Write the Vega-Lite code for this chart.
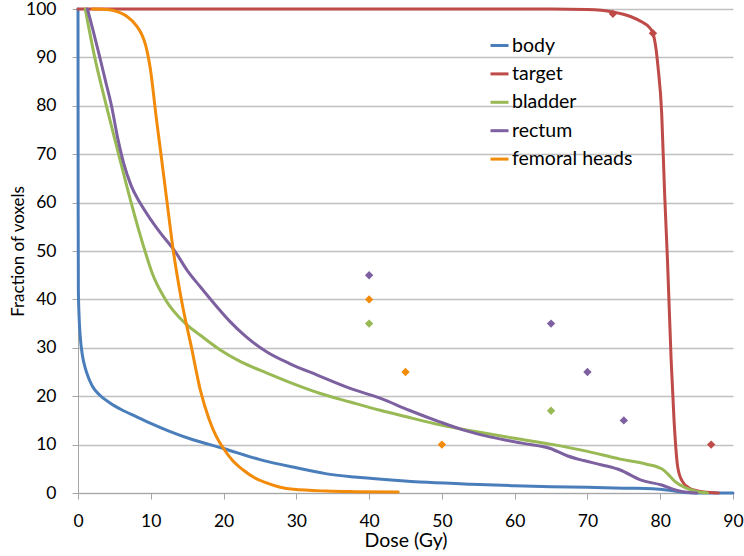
{
  "$schema": "https://vega.github.io/schema/vega-lite/v6.json",
  "width": 655,
  "height": 484,
  "autosize": {"type": "none"},
  "padding": {"left": 78, "top": 9, "right": 11, "bottom": 63},
  "background": "white",
  "config": {
    "view": {"stroke": null},
    "font": "Lato",
    "axis": {"labelFont": "Lato", "titleFont": "Lato", "labelColor": "#000000", "titleColor": "#000000", "titleFontWeight": "normal"}
  },
  "datasets": {
    "curves": [
      {"s": "body", "x": 0, "y": 100}, {"s": "body", "x": 0.02, "y": 60}, {"s": "body", "x": 0.05, "y": 42}, {"s": "body", "x": 0.15, "y": 36.5}, {"s": "body", "x": 0.3, "y": 32.5}, {"s": "body", "x": 0.6, "y": 28.5}, {"s": "body", "x": 1, "y": 25.8}, {"s": "body", "x": 1.5, "y": 23.6}, {"s": "body", "x": 2, "y": 22}, {"s": "body", "x": 3, "y": 20.2}, {"s": "body", "x": 4.4, "y": 18.6}, {"s": "body", "x": 6, "y": 17.2}, {"s": "body", "x": 8, "y": 15.8}, {"s": "body", "x": 10, "y": 14.4}, {"s": "body", "x": 12.5, "y": 12.8}, {"s": "body", "x": 15.8, "y": 11}, {"s": "body", "x": 20, "y": 9.2}, {"s": "body", "x": 25, "y": 6.9}, {"s": "body", "x": 30, "y": 5.2}, {"s": "body", "x": 34, "y": 4.0}, {"s": "body", "x": 38, "y": 3.3}, {"s": "body", "x": 43, "y": 2.7}, {"s": "body", "x": 48, "y": 2.2}, {"s": "body", "x": 54, "y": 1.8}, {"s": "body", "x": 60, "y": 1.5}, {"s": "body", "x": 65, "y": 1.3}, {"s": "body", "x": 70, "y": 1.2}, {"s": "body", "x": 75, "y": 1.0}, {"s": "body", "x": 79, "y": 0.9}, {"s": "body", "x": 81.5, "y": 0.5}, {"s": "body", "x": 83, "y": 0.15}, {"s": "body", "x": 85, "y": 0}, {"s": "body", "x": 90, "y": 0},
      {"s": "target", "x": 0, "y": 100}, {"s": "target", "x": 65, "y": 100}, {"s": "target", "x": 70, "y": 99.9}, {"s": "target", "x": 73.5, "y": 99.4}, {"s": "target", "x": 76, "y": 98.4}, {"s": "target", "x": 77.5, "y": 97.3}, {"s": "target", "x": 78.5, "y": 96.2}, {"s": "target", "x": 79, "y": 95}, {"s": "target", "x": 79.4, "y": 92}, {"s": "target", "x": 79.7, "y": 88}, {"s": "target", "x": 80.2, "y": 78.5}, {"s": "target", "x": 80.6, "y": 62}, {"s": "target", "x": 81, "y": 48}, {"s": "target", "x": 81.5, "y": 27.5}, {"s": "target", "x": 81.9, "y": 15}, {"s": "target", "x": 82.4, "y": 5.4}, {"s": "target", "x": 83, "y": 2.5}, {"s": "target", "x": 84, "y": 1}, {"s": "target", "x": 85, "y": 0.5}, {"s": "target", "x": 86, "y": 0.2}, {"s": "target", "x": 88, "y": 0},
      {"s": "bladder", "x": 1, "y": 100}, {"s": "bladder", "x": 1.5, "y": 96}, {"s": "bladder", "x": 2.3, "y": 90}, {"s": "bladder", "x": 3.9, "y": 80}, {"s": "bladder", "x": 5.5, "y": 70.5}, {"s": "bladder", "x": 7.3, "y": 60}, {"s": "bladder", "x": 9.2, "y": 50}, {"s": "bladder", "x": 10.2, "y": 45.4}, {"s": "bladder", "x": 12, "y": 40}, {"s": "bladder", "x": 14.7, "y": 35.1}, {"s": "bladder", "x": 16.8, "y": 32.6}, {"s": "bladder", "x": 19.5, "y": 29.6}, {"s": "bladder", "x": 22, "y": 27.4}, {"s": "bladder", "x": 25.9, "y": 24.8}, {"s": "bladder", "x": 29, "y": 22.9}, {"s": "bladder", "x": 33.2, "y": 20.6}, {"s": "bladder", "x": 37.4, "y": 18.8}, {"s": "bladder", "x": 41.5, "y": 17.1}, {"s": "bladder", "x": 45, "y": 15.8}, {"s": "bladder", "x": 49.7, "y": 14.1}, {"s": "bladder", "x": 55, "y": 12.6}, {"s": "bladder", "x": 60, "y": 11.3}, {"s": "bladder", "x": 64.9, "y": 10.1}, {"s": "bladder", "x": 70, "y": 8.6}, {"s": "bladder", "x": 74.5, "y": 7.0}, {"s": "bladder", "x": 78, "y": 6.0}, {"s": "bladder", "x": 80.2, "y": 5.0}, {"s": "bladder", "x": 81, "y": 4.0}, {"s": "bladder", "x": 82, "y": 2.4}, {"s": "bladder", "x": 83.6, "y": 1.0}, {"s": "bladder", "x": 85, "y": 0.3}, {"s": "bladder", "x": 86.5, "y": 0},
      {"s": "rectum", "x": 1.3, "y": 100}, {"s": "rectum", "x": 2, "y": 96}, {"s": "rectum", "x": 3.0, "y": 90}, {"s": "rectum", "x": 3.8, "y": 85}, {"s": "rectum", "x": 4.6, "y": 80}, {"s": "rectum", "x": 5.5, "y": 73}, {"s": "rectum", "x": 6.3, "y": 68}, {"s": "rectum", "x": 7.3, "y": 63.5}, {"s": "rectum", "x": 8.5, "y": 60}, {"s": "rectum", "x": 10, "y": 56.5}, {"s": "rectum", "x": 11.4, "y": 53.6}, {"s": "rectum", "x": 13.3, "y": 50}, {"s": "rectum", "x": 15, "y": 46}, {"s": "rectum", "x": 16.8, "y": 42.6}, {"s": "rectum", "x": 18.5, "y": 39.5}, {"s": "rectum", "x": 20.9, "y": 35.4}, {"s": "rectum", "x": 23, "y": 32.4}, {"s": "rectum", "x": 25.9, "y": 29.2}, {"s": "rectum", "x": 29, "y": 26.8}, {"s": "rectum", "x": 32.8, "y": 24.4}, {"s": "rectum", "x": 37.4, "y": 21.6}, {"s": "rectum", "x": 41.5, "y": 19.6}, {"s": "rectum", "x": 45.5, "y": 17.1}, {"s": "rectum", "x": 49.7, "y": 14.7}, {"s": "rectum", "x": 53, "y": 13}, {"s": "rectum", "x": 56.6, "y": 11.6}, {"s": "rectum", "x": 61, "y": 10.3}, {"s": "rectum", "x": 64.9, "y": 9.2}, {"s": "rectum", "x": 67.2, "y": 7.7}, {"s": "rectum", "x": 69.5, "y": 6.7}, {"s": "rectum", "x": 72, "y": 5.8}, {"s": "rectum", "x": 74.5, "y": 4.75}, {"s": "rectum", "x": 77.3, "y": 2.7}, {"s": "rectum", "x": 80.2, "y": 1.65}, {"s": "rectum", "x": 82.2, "y": 0.6}, {"s": "rectum", "x": 84, "y": 0.1}, {"s": "rectum", "x": 85, "y": 0},
      {"s": "femoral heads", "x": 2, "y": 100}, {"s": "femoral heads", "x": 4, "y": 99.9}, {"s": "femoral heads", "x": 5.5, "y": 99.4}, {"s": "femoral heads", "x": 6.7, "y": 98.5}, {"s": "femoral heads", "x": 8.1, "y": 96.4}, {"s": "femoral heads", "x": 8.8, "y": 94.6}, {"s": "femoral heads", "x": 9.3, "y": 92.5}, {"s": "femoral heads", "x": 9.9, "y": 88}, {"s": "femoral heads", "x": 10.8, "y": 77}, {"s": "femoral heads", "x": 11.4, "y": 70}, {"s": "femoral heads", "x": 12.2, "y": 60.5}, {"s": "femoral heads", "x": 13.1, "y": 50}, {"s": "femoral heads", "x": 14.2, "y": 40}, {"s": "femoral heads", "x": 15.6, "y": 30}, {"s": "femoral heads", "x": 16.8, "y": 21.3}, {"s": "femoral heads", "x": 18, "y": 15.3}, {"s": "femoral heads", "x": 19, "y": 11.7}, {"s": "femoral heads", "x": 20, "y": 9.2}, {"s": "femoral heads", "x": 21.3, "y": 6.6}, {"s": "femoral heads", "x": 22.7, "y": 4.75}, {"s": "femoral heads", "x": 24.2, "y": 3.2}, {"s": "femoral heads", "x": 25.9, "y": 2.1}, {"s": "femoral heads", "x": 27.8, "y": 1.2}, {"s": "femoral heads", "x": 29.6, "y": 0.76}, {"s": "femoral heads", "x": 34.2, "y": 0.4}, {"s": "femoral heads", "x": 38, "y": 0.28}, {"s": "femoral heads", "x": 44, "y": 0.2}
    ],
    "limits": [
      {"s": "target", "x": 73.5, "y": 99}, {"s": "target", "x": 79, "y": 95}, {"s": "target", "x": 87, "y": 10},
      {"s": "rectum", "x": 40, "y": 45}, {"s": "rectum", "x": 65, "y": 35}, {"s": "rectum", "x": 70, "y": 25}, {"s": "rectum", "x": 75, "y": 15},
      {"s": "bladder", "x": 40, "y": 35}, {"s": "bladder", "x": 65, "y": 17},
      {"s": "femoral heads", "x": 40, "y": 40}, {"s": "femoral heads", "x": 45, "y": 25}, {"s": "femoral heads", "x": 50, "y": 10}
    ]
  },
  "encoding": {
    "x": {"field": "x", "type": "quantitative", "scale": {"domain": [0, 90], "nice": false, "zero": false},
      "axis": {"title": "Dose (Gy)", "values": [0,10,20,30,40,50,60,70,80,90], "grid": false, "domainColor": "#a6a6a6", "tickColor": "#a6a6a6", "tickSize": 6, "labelFontSize": 17.5, "labelPadding": 13, "titleFontSize": 19.5, "titlePadding": 2, "labelFlush": false}},
    "y": {"field": "y", "type": "quantitative", "scale": {"domain": [0, 100], "nice": false},
      "axis": {"title": "Fraction of voxels", "values": [0,10,20,30,40,50,60,70,80,90,100], "grid": true, "gridColor": "#c0c0c0", "gridWidth": 1.3, "domainColor": "#a6a6a6", "tickColor": "#a6a6a6", "tickSize": 6, "labelFontSize": 17.5, "labelPadding": 16, "titleFontSize": 17, "titlePadding": -2}},
    "color": {"field": "s", "type": "nominal",
      "scale": {"domain": ["body", "target", "bladder", "rectum", "femoral heads"], "range": ["#4a7ebb", "#be4b48", "#98b954", "#7d60a0", "#f28a0a"]}}
  },
  "layer": [
    {
      "data": {"name": "curves"},
      "mark": {"type": "line", "strokeJoin": "round", "strokeCap": "round", "interpolate": "monotone"},
      "encoding": {
        "color": {"field": "s", "type": "nominal",
          "scale": {"domain": ["body", "target", "bladder", "rectum", "femoral heads"], "range": ["#4a7ebb", "#be4b48", "#98b954", "#7d60a0", "#f28a0a"]},
          "legend": {"title": null, "orient": "none", "legendX": 411, "legendY": 26, "symbolType": "stroke", "symbolSize": 324, "symbolStrokeWidth": 3.5, "labelFontSize": 19.5, "labelFont": "Lato", "labelColor": "#000000", "labelOffset": 2, "rowPadding": 8.4, "padding": 0}},
        "strokeWidth": {"field": "s", "type": "nominal", "scale": {"domain": ["body", "target", "bladder", "rectum", "femoral heads"], "range": [3, 3, 3, 3, 5.5]}, "legend": null}
      }
    },
    {
      "data": {"name": "limits"},
      "mark": {"type": "point", "shape": "diamond", "filled": true, "size": 70, "opacity": 1},
      "encoding": {
        "color": {"field": "s", "type": "nominal", "legend": null}
      }
    }
  ]
}
